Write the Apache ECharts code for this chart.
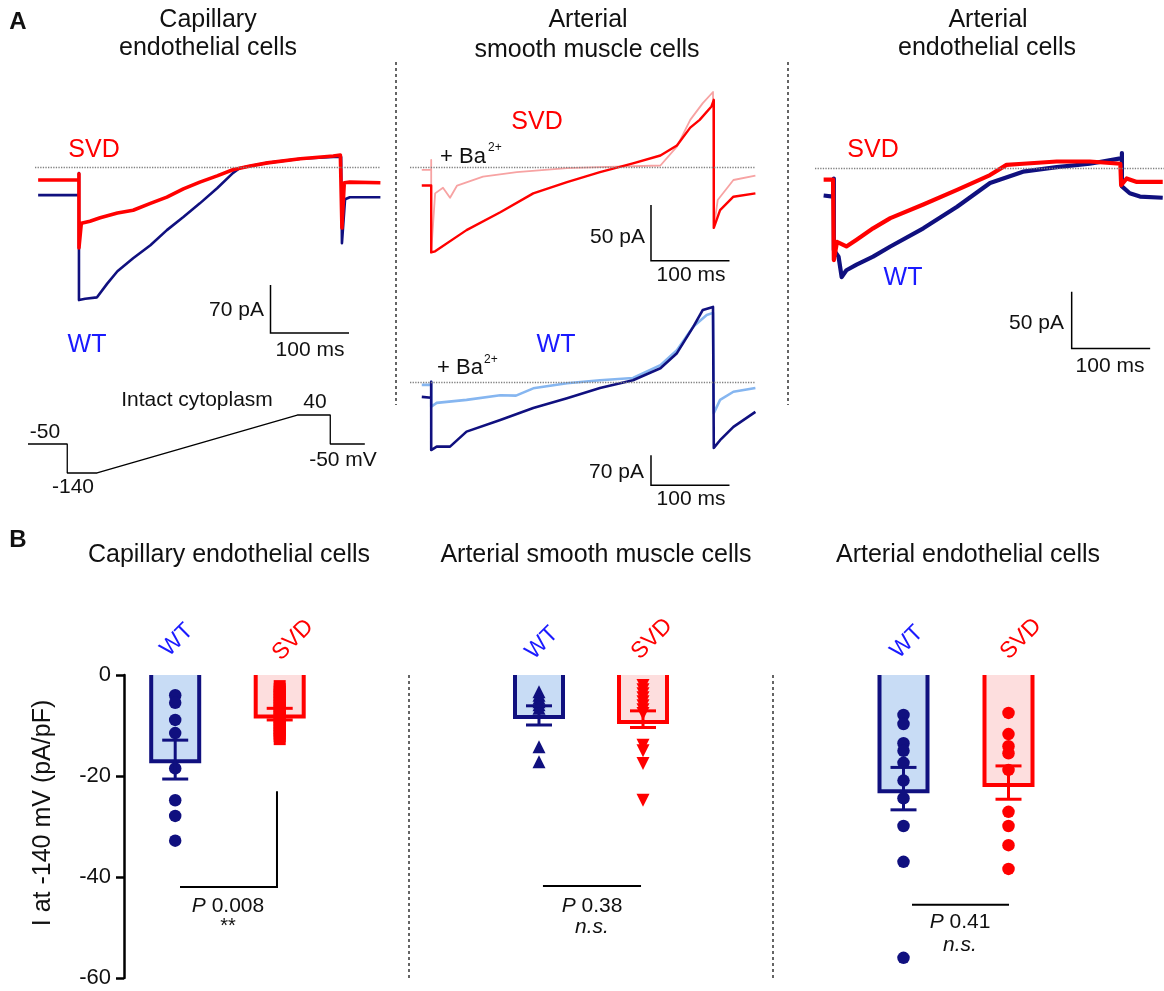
<!DOCTYPE html>
<html><head><meta charset="utf-8">
<script src="https://cdn.jsdelivr.net/npm/echarts@6/dist/echarts.min.js"></script>
<style>html,body{margin:0;padding:0;background:#fff}#c{width:1164px;height:991px}</style>
</head><body><div id="c"></div>
<script>
// ================= DATA =================
const groups = ['WT', 'SVD'];

// Panel A: current traces, time (ms) vs current (pA)
// Capillary endothelial cells
const capSvdT = [4,56,56,56,59,70,83,105,125,147,168,189,210,232,252,274,296,338,380,389,391,391,394,401,440];
const capSvdI = [-19,-19,-10,-118,-82,-79,-74,-67,-63,-53,-44,-32,-22,-13,-4,1.5,6,12,16,17.5,15,-89,-23,-22,-23];
const capWtT  = [4,56,56,56,64,79,92,105,125,147,168,189,210,232,252,261,296,338,380,390,391,395,401,440];
const capWtI  = [-41,-41,-9,-194,-192,-190,-170,-152,-133,-114,-92,-73,-53,-31,-9,-1.5,6,12,14.6,14.6,-111,-47,-44,-44];
// Arterial smooth muscle cells (SVD, control and + Ba2+)
const asmSvdT   = [15,27,27,32,72,115,157,200,242,284,319,340,357,369,384,387,387,395,412,440];
const asmSvdI   = [-16,-16,-76,-75,-56,-40,-23,-13,-4,4,11,20,36,43,55,61,-54,-38,-26,-23];
const asmSvdBaT = [15,27,27,27,32,42,51,60,93,136,200,263,319,340,357,373,386,387,387,392,412,440];
const asmSvdBaI = [-2,-2,7,-76,-23,-18,-27,-16,-8,-4,-0.3,1,2,19,43,58,68,68,-54,-29,-11,-7];
// Arterial smooth muscle cells (WT, control and + Ba2+)
const asmWtT   = [15,27,27,27,34,51,72,115,157,200,242,284,319,340,361,373,386,387,387,395,412,440];
const asmWtI   = [-34,-36,1,-158,-150,-150,-115,-88,-60,-37,-13,5,33,68,130,169,176,176,-153,-135,-104,-69];
const asmWtBaT = [15,27,27,27,34,72,115,135,157,200,242,284,319,340,361,378,386,387,387,395,412,440];
const asmWtBaI = [-6,-6,1,-57,-48,-41,-30,-31,-14,-2,5,10,40,75,130,157,162,162,-72,-41,-22,-13];
// Arterial endothelial cells
const artSvdT = [11,23,24,28,40,53,74,96,138,181,223,244,265,308,350,389,390,390,397,410,443];
const artSvdI = [-10,-10,-81,-65,-69,-63,-53,-44,-32,-19,-6,3,4,6,6,4,4,-15,-9,-12,-12];
const artWtT  = [11,23,24,24,30,34,40,53,74,96,138,181,223,265,308,350,391,391,391,401,414,443];
const artWtI  = [-24,-25,-9,-72,-78,-96,-90,-85,-78,-69,-53,-34,-13,-3,1,4,9,13.5,-16,-22,-25,-26];
// Voltage protocol (ms, mV)
const protoT = [0,50,50,88,343,385,385,429];
const protoV = [-50,-50,-140,-140,40,40,-50,-50];

// Panel B: I at -140 mV (pA/pF)
const yTicks = [0,-20,-40,-60];
// Capillary endothelial cells
const capBar = [-17.1, -8.2];
const capErr = [[-20.6,-12.9],[-8.9,-6.6]];
const capWtPts  = [-4.0,-5.5,-8.9,-11.5,-18.5,-24.8,-27.9,-32.8];
const capSvdPts = [-2.2,-2.8,-3.3,-3.9,-4.4,-5.0,-5.5,-6.1,-6.6,-7.2,-7.7,-8.3,-8.8,-9.4,-9.9,-10.5,-11.0,-11.6,-12.1,-12.7];
// Arterial smooth muscle cells
const asmBar = [-8.3, -9.3];
const asmErr = [[-9.9,-6.1],[-10.4,-7.1]];
const asmWtPts  = [-3.3,-4.0,-4.6,-5.3,-5.9,-6.6,-14.2,-17.2];
const asmSvdPts = [-2.1,-2.9,-3.7,-4.5,-5.3,-6.1,-6.9,-7.6,-13.9,-15.0,-17.5,-24.8];
// Arterial endothelial cells
const artBar = [-23.0, -21.8];
const artErr = [[-26.7,-18.3],[-24.6,-18.0]];
const artWtPts  = [-7.9,-9.7,-13.5,-15.0,-17.4,-20.9,-24.4,-29.9,-37.0,-56.0];
const artSvdPts = [-7.5,-11.7,-14.1,-15.5,-18.8,-27.1,-29.9,-33.7,-38.4];
// Significance
const pTexts = ['0.008','0.38','0.41'];
const sigTexts = ['**','n.s.','n.s.'];
const sigY = [-42, -41.8, -45.5];

// ================= STYLE / HELPERS =================
const FONT = '"Liberation Sans", Arial, Helvetica, sans-serif';
const NAVY = '#10107f', RED = '#ff0000', BLUE_TXT = '#1a1aff';
const LRED = '#f7a3a3', LBLUE = '#86b6f0';
const FILL = ['#c8dcf5', '#fddede'];
const EDGE = [NAVY, RED];
const zip = (a, b) => a.map((v, i) => [v, b[i]]);
const scaleBar = (t0, iTop, dI, dT) => [[t0, iTop], [t0, iTop - dI], [t0 + dT, iTop - dI]];

const grids = [
  {left:35,  top:98.4,  width:345.4, height:240.1}, // 0 A capillary
  {left:28,  top:411.8, width:337.6, height:64.4},  // 1 protocol
  {left:410, top:84.2,  width:345.4, height:183.8}, // 2 A smooth muscle SVD
  {left:410, top:296.6, width:345.4, height:192.9}, // 3 A smooth muscle WT
  {left:815, top:134.3, width:349.3, height:226.6}, // 4 A arterial endo
  {left:124, top:675,   width:209,   height:303},   // 5 B1
  {left:487, top:675,   width:208,   height:303},   // 6 B2
  {left:851, top:675,   width:210,   height:303}    // 7 B3
].map(g => Object.assign({outerBoundsMode:'none', containLabel:false}, g));

const hx = (min, max) => ({type:'value', min, max, show:false, splitLine:{show:false}});
const xAxes = [hx(0,440), hx(0,430), hx(0,440), hx(0,440), hx(0,445), hx(-0.49,1.51), hx(-0.5,1.5), hx(-0.5,1.5)]
  .map((a, i) => Object.assign(a, {gridIndex:i}));
const yAxes = [hx(-250,100), hx(-150,50), hx(-90,75), hx(-250,200), hx(-170,30), hx(-60,0), hx(-60,0), hx(-60,0)]
  .map((a, i) => Object.assign(a, {gridIndex:i}));
// visible y axis for B1
Object.assign(yAxes[5], {
  show:true, interval:20,
  axisLine:{show:true, onZero:false, lineStyle:{color:'#000', width:2.5}},
  axisLabel:{show:true, fontSize:22, color:'#111', fontFamily:FONT, margin:13, customValues: yTicks},
  axisTick:{show:true, inside:false, length:8, lineStyle:{color:'#000', width:2.5}, customValues: yTicks}
});

const baseline = {silent:true, symbol:'none', label:{show:false},
  lineStyle:{type:'dotted', color:'#808080', width:1.3}, data:[{yAxis:0}], animation:false};

function trace(gi, t, i, color, w, withBase) {
  const s = {type:'line', xAxisIndex:gi, yAxisIndex:gi, data:zip(t, i), showSymbol:false,
    symbol:'none', lineStyle:{color, width:w, join:'round'}, silent:true, z:3};
  if (withBase) s.markLine = baseline;
  return s;
}
function bar(gi, vals) {
  return {type:'custom', xAxisIndex:gi, yAxisIndex:gi, z:2, silent:true,
    data: vals.map((v, k) => [k, v]),
    renderItem(params, api) {
      const k = api.value(0), v = api.value(1);
      const p0 = api.coord([k, 0]), p1 = api.coord([k, v]);
      const hw = 24;
      return {type:'group', children:[
        {type:'rect', shape:{x:p0[0]-hw, y:p0[1], width:2*hw, height:p1[1]-p0[1]}, style:{fill:FILL[k]}},
        {type:'polyline', shape:{points:[[p0[0]-hw,p0[1]],[p0[0]-hw,p1[1]],[p0[0]+hw,p1[1]],[p0[0]+hw,p0[1]]]},
          style:{stroke:EDGE[k], lineWidth:4, fill:null, lineJoin:'miter'}}
      ]};
    }};
}
function errbar(gi, errs) {
  return {type:'custom', xAxisIndex:gi, yAxisIndex:gi, z:5, silent:true,
    data: errs.map((e, k) => [k, e[0], e[1]]),
    renderItem(params, api) {
      const k = api.value(0);
      const lo = api.coord([k, api.value(1)]), hi = api.coord([k, api.value(2)]);
      const cw = 13, st = {stroke:EDGE[k], lineWidth:3};
      return {type:'group', children:[
        {type:'line', shape:{x1:lo[0], y1:lo[1], x2:hi[0], y2:hi[1]}, style:st},
        {type:'line', shape:{x1:lo[0]-cw, y1:lo[1], x2:lo[0]+cw, y2:lo[1]}, style:st},
        {type:'line', shape:{x1:hi[0]-cw, y1:hi[1], x2:hi[0]+cw, y2:hi[1]}, style:st}
      ]};
    }};
}
function pts(gi, k, vals, symbol, size, rot) {
  return {type:'scatter', xAxisIndex:gi, yAxisIndex:gi, z:4, silent:true,
    data: vals.map(v => [k, v]), symbol, symbolSize:size, symbolRotate:rot || 0,
    itemStyle:{color:EDGE[k], opacity:1}};
}
function bracket(gi, x1, x2, y, yTop) {
  return {type:'custom', xAxisIndex:gi, yAxisIndex:gi, z:5, silent:true,
    data:[[x1, x2, y, yTop == null ? y : yTop]],
    renderItem(params, api) {
      const a = api.coord([api.value(0), api.value(2)]);
      const b = api.coord([api.value(1), api.value(2)]);
      const c = api.coord([api.value(1), api.value(3)]);
      return {type:'polyline', shape:{points:[a, b, c]}, style:{stroke:'#000', lineWidth:2, fill:null}};
    }};
}
const sb = (gi, data) => ({type:'line', xAxisIndex:gi, yAxisIndex:gi, data, showSymbol:false, symbol:'none',
  silent:true, lineStyle:{color:'#000', width:1.5, join:'miter'}});

const series = [
  // A capillary
  trace(0, capWtT, capWtI, NAVY, 2.6, true),
  trace(0, capSvdT, capSvdI, RED, 3.6),
  sb(0, scaleBar(300,-172,70,100)),
  // protocol
  {type:'line', xAxisIndex:1, yAxisIndex:1, data:zip(protoT, protoV), showSymbol:false, symbol:'none', silent:true, lineStyle:{color:'#000', width:1.3}},
  // A smooth muscle SVD
  trace(2, asmSvdBaT, asmSvdBaI, LRED, 1.8, true),
  trace(2, asmSvdT, asmSvdI, RED, 2.4),
  sb(2, scaleBar(307,-33.5,50,100)),
  // A smooth muscle WT
  trace(3, asmWtBaT, asmWtBaI, LBLUE, 2.6, true),
  trace(3, asmWtT, asmWtI, NAVY, 2.6),
  sb(3, scaleBar(307,-170,70,100)),
  // A arterial endothelial
  trace(4, artWtT, artWtI, NAVY, 4.2, true),
  trace(4, artSvdT, artSvdI, RED, 4.2),
  sb(4, scaleBar(327,-109,50,100)),
  // B1
  bar(5, capBar), pts(5, 0, capWtPts, 'circle', 12.5), pts(5, 1, capSvdPts, 'rect', [12, 12]), errbar(5, capErr),
  bracket(5, 0.046, 0.974, sigY[0], -23),
  // B2
  bar(6, asmBar), pts(6, 0, asmWtPts, 'triangle', 13), pts(6, 1, asmSvdPts, 'triangle', 13, 180), errbar(6, asmErr),
  bracket(6, 0.038, 0.981, sigY[1]),
  // B3
  bar(7, artBar), pts(7, 0, artWtPts, 'circle', 12.5), pts(7, 1, artSvdPts, 'circle', 12.5), errbar(7, artErr),
  bracket(7, 0.081, 1.005, sigY[2])
];

// ================= TEXT =================
function T(x, y, text, o) {
  o = o || {};
  return {type:'text', x, y, rotation:o.rot || 0, silent:true, z:10,
    style:{text, fill:o.color || '#111', fontSize:o.size || 21, fontFamily:FONT,
      fontWeight:o.weight || 'normal', fontStyle:o.style || 'normal',
      align:o.align || 'center', verticalAlign:o.va || 'middle'}};
}
function PT(x, y, val) {
  return {type:'text', x, y, silent:true, z:10, style:{text:'{i|P} ' + val,
    rich:{i:{fontStyle:'italic', fontSize:21, fontFamily:FONT, fill:'#111'}},
    fontSize:21, fontFamily:FONT, fill:'#111', align:'center', verticalAlign:'middle'}};
}
function VL(x, y1, y2) {
  return {type:'line', silent:true, shape:{x1:x, y1, x2:x, y2},
    style:{stroke:'#333', lineWidth:1.5, lineDash:[3, 3]}};
}
const graphic = [
  VL(396, 62, 405), VL(788, 62, 405), VL(409, 675, 980), VL(773, 675, 980),
  T(18, 22, 'A', {size:24, weight:'bold'}), T(18, 540, 'B', {size:24, weight:'bold'}),
  // A titles
  T(208, 20, 'Capillary', {size:25}), T(208, 48, 'endothelial cells', {size:25}),
  T(588, 20, 'Arterial', {size:25}), T(587, 50, 'smooth muscle cells', {size:25}),
  T(988, 20, 'Arterial', {size:25}), T(987, 48, 'endothelial cells', {size:25}),
  // A capillary labels
  T(94, 150, 'SVD', {size:25, color:RED}), T(87, 345, 'WT', {size:25, color:BLUE_TXT}),
  T(264, 310, '70 pA', {align:'right'}), T(310, 350, '100 ms'),
  T(197, 400, 'Intact cytoplasm'), T(45, 432, '-50'), T(73, 487, '-140'),
  T(315, 402, '40'), T(343, 460, '-50 mV'),
  // A smooth muscle labels
  T(537, 122, 'SVD', {size:25, color:RED}),
  T(440, 157, '+ Ba', {size:22, align:'left'}), T(488, 148, '2+', {size:12, align:'left'}),
  T(645, 237, '50 pA', {align:'right'}), T(691, 275, '100 ms'),
  T(556, 345, 'WT', {size:25, color:BLUE_TXT}),
  T(437, 368, '+ Ba', {size:22, align:'left'}), T(484, 360, '2+', {size:12, align:'left'}),
  T(644, 472, '70 pA', {align:'right'}), T(691, 499, '100 ms'),
  // A arterial endothelial labels
  T(873, 150, 'SVD', {size:25, color:RED}), T(903, 278, 'WT', {size:25, color:BLUE_TXT}),
  T(1064, 323, '50 pA', {align:'right'}), T(1110, 366, '100 ms'),
  // B titles
  T(229, 555, 'Capillary endothelial cells', {size:25}),
  T(596, 555, 'Arterial smooth muscle cells', {size:25}),
  T(968, 555, 'Arterial endothelial cells', {size:25}),
  T(43, 813, 'I at -140 mV (pA/pF)', {size:25, rot:Math.PI/2}),
  // rotated group labels
  T(177, 640, groups[0], {size:23, color:BLUE_TXT, rot:Math.PI/4}),
  T(293, 640, groups[1], {size:23, color:RED, rot:Math.PI/4}),
  T(542, 643, groups[0], {size:23, color:BLUE_TXT, rot:Math.PI/4}),
  T(652, 639, groups[1], {size:23, color:RED, rot:Math.PI/4}),
  T(907, 642, groups[0], {size:23, color:BLUE_TXT, rot:Math.PI/4}),
  T(1021, 639, groups[1], {size:23, color:RED, rot:Math.PI/4}),
  // P values and significance
  PT(228, 906, pTexts[0]), T(228, 926, sigTexts[0], {size:20}),
  PT(592, 906, pTexts[1]), T(592, 927, sigTexts[1], {size:21, style:'italic'}),
  PT(960, 922, pTexts[2]), T(960, 945, sigTexts[2], {size:21, style:'italic'})
];

const chart = echarts.init(document.getElementById('c'), null, {renderer:'canvas'});
chart.setOption({
  animation:false, backgroundColor:'#fff',
  grid:grids, xAxis:xAxes, yAxis:yAxes, series, graphic
});
</script></body></html>
